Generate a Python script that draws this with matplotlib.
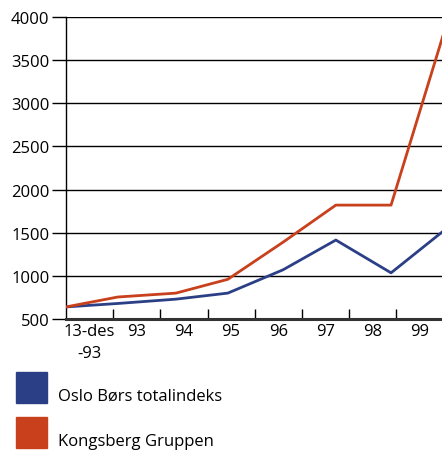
import matplotlib
matplotlib.use("Agg")
import matplotlib.pyplot as plt
from matplotlib.patches import Rectangle

plt.rcParams['font.family'] = ['Open Sans', 'DejaVu Sans']

# data (x in tick units along the time axis)
x_pos = [0.0, 1.10, 2.33, 3.43, 4.60, 5.72, 6.89, 8.0]
oslo = [640, 680, 730, 800, 1070, 1415, 1035, 1520]
kongsberg = [640, 755, 800, 960, 1390, 1820, 1820, 3800]
tick_labels = ['13-des\n-93', '93', '94', '95', '96', '97', '98', '99']
y_ticks = [500, 1000, 1500, 2000, 2500, 3000, 3500, 4000]

blue = '#2b3f87'
red = '#c8401c'
fs = 12

fig = plt.figure(figsize=(4.42, 4.52), dpi=100)
ax = fig.add_axes([66 / 442, 132 / 452, 1 - 66 / 442, 302 / 452])

for v in y_ticks[1:]:
    ax.axhline(v, color='black', lw=1.0, zorder=1)

ax.plot(x_pos, oslo, color=blue, lw=2.0, zorder=3)
ax.plot(x_pos, kongsberg, color=red, lw=2.0, zorder=3)

ax.set_xlim(0, 7.97)
ax.set_ylim(500, 4000)
ax.set_yticks(y_ticks)
ax.tick_params(axis='y', direction='out', length=10, width=1, labelsize=fs, pad=2)

# tick marks at integers, labels centred between them
ax.set_xticks(range(1, 8))
ax.set_xticklabels([])
ax.tick_params(axis='x', which='major', direction='in', length=7, width=1)
ax.set_xticks([i + 0.5 for i in range(8)], minor=True)
ax.set_xticklabels(tick_labels, minor=True, fontsize=fs, linespacing=1.45)
ax.tick_params(axis='x', which='minor', length=0, pad=3)

for s in ['top', 'right']:
    ax.spines[s].set_visible(False)
ax.spines['left'].set_linewidth(1.0)
ax.spines['bottom'].set_linewidth(2.2)
ax.spines['bottom'].set_color('#333333')

# legend
fig.patches.append(Rectangle((16 / 442, 1 - 404 / 452), 31 / 442, 31 / 452,
                             transform=fig.transFigure, color=blue))
fig.patches.append(Rectangle((16 / 442, 1 - 449 / 452), 31 / 442, 31 / 452,
                             transform=fig.transFigure, color=red))
fig.text(58 / 442, 1 - 397 / 452, 'Oslo Børs totalindeks', fontsize=fs, va='center')
fig.text(58 / 442, 1 - 442 / 452, 'Kongsberg Gruppen', fontsize=fs, va='center')

fig.savefig('out.png', dpi=100)
